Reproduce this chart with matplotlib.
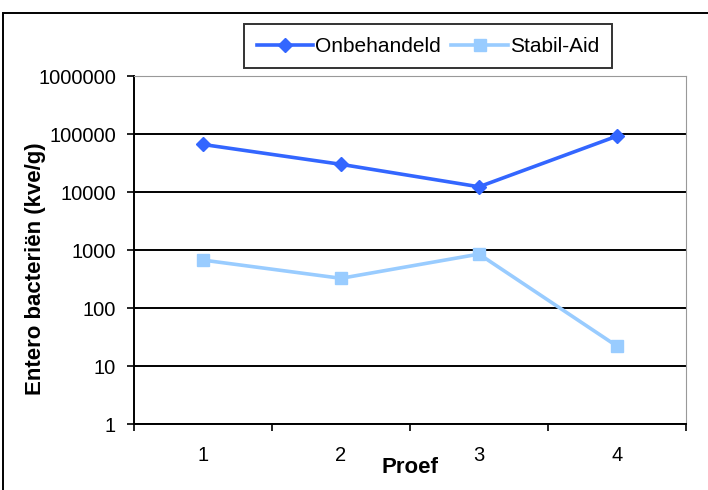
import numpy as np
import matplotlib
matplotlib.use('Agg')
import matplotlib.pyplot as plt
from matplotlib.patches import Rectangle

plt.rcParams['font.family'] = ['Liberation Sans', 'DejaVu Sans']

proef = ['1', '2', '3', '4']
onbehandeld = [66000, 30000, 12300, 92000]
stabil_aid = [670, 325, 850, 22]

fig = plt.figure(figsize=(7.08, 4.9), dpi=100)
W, H = 708, 490
ax = fig.add_axes([134 / W, 1 - 424 / H, (686 - 134) / W, (424 - 76) / H])

x = np.arange(len(proef))
ax.plot(x, onbehandeld, color='#3366FF', lw=2.6, marker='D', ms=7, label='Onbehandeld')
ax.plot(x, stabil_aid, color='#99CCFF', lw=2.6, marker='s', ms=8, label='Stabil-Aid')

ax.set_yscale('log')
ax.set_ylim(1, 1000000)
ax.set_xlim(-0.5, len(proef) - 0.5)
ax.set_yticks([1, 10, 100, 1000, 10000, 100000, 1000000])
ax.set_yticklabels(['1', '10', '100', '1000', '10000', '100000', '1000000'], fontsize=14.5)
ax.yaxis.set_minor_locator(matplotlib.ticker.NullLocator())
ax.set_xticks(np.arange(len(proef) + 1) - 0.5)
ax.set_xticklabels([])
ax.set_xticks(x, minor=True)
ax.set_xticklabels(proef, minor=True, fontsize=14.5)
ax.tick_params(axis='x', which='minor', length=0, pad=16)
ax.tick_params(axis='x', which='major', length=5, width=1.2, direction='out', color='black')
ax.tick_params(axis='y', length=5, width=1.2, direction='out', color='black', pad=8)
ax.grid(axis='y', which='major', color='black', lw=1.4)

for s in ['top', 'right']:
    ax.spines[s].set_color('#999999')
for s in ['left', 'bottom']:
    ax.spines[s].set_color('black')
    ax.spines[s].set_linewidth(1.4)

fig.text(36 / W, 1 - 269 / H, 'Entero bacteriën (kve/g)', fontsize=16, fontweight='bold',
         rotation=90, ha='center', va='center')
fig.text(410 / W, 1 - 467 / H, 'Proef', fontsize=16, fontweight='bold', ha='center', va='center')

leg = fig.legend(loc='center', bbox_to_anchor=(428 / W, 1 - 46.5 / H), ncol=2, fontsize=15,
                 frameon=True, fancybox=False, edgecolor='black', handlelength=2.7,
                 handletextpad=0.1, columnspacing=0.5, borderpad=0.6, borderaxespad=0)
leg.get_frame().set_linewidth(1.4)

fig.patches.append(Rectangle((3 / W, -0.1), 1.2, 1 - 13 / H + 0.1, transform=fig.transFigure,
                             fill=False, edgecolor='black', lw=1.4))

fig.savefig('out.png', dpi=100)
